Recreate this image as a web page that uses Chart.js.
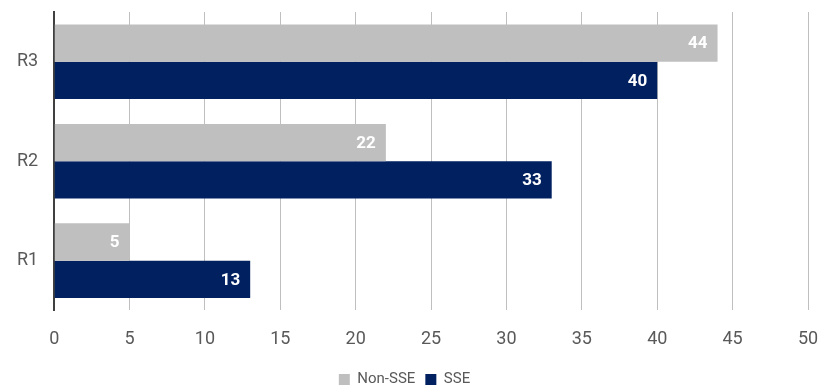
<!DOCTYPE html>
<html>
<head>
<meta charset="utf-8">
<script src="https://cdn.jsdelivr.net/npm/chart.js@4.4.1/dist/chart.umd.min.js"></script>
<style>
  html, body { margin: 0; padding: 0; background: #fff; }
  #chart { display: block; }
</style>
</head>
<body>
<canvas id="chart" width="819" height="388"></canvas>
<script>
// Rounds shown top to bottom
var rounds = ['R3', 'R2', 'R1'];
var nonSseValues = [44, 22, 5];
var sseValues = [40, 33, 13];
var xTicks = [0, 5, 10, 15, 20, 25, 30, 35, 40, 45, 50];

var greyColor = '#bfbfbf';
var navyColor = '#002060';
var textColor = '#595959';

// Write each value in white at the inner end of its bar
var barValueLabels = {
    id: 'barValueLabels',
    afterDatasetsDraw: function (chart) {
        var ctx = chart.ctx;
        ctx.save();
        ctx.fillStyle = '#ffffff';
        ctx.font = 'bold 17px Roboto';
        ctx.textAlign = 'right';
        ctx.textBaseline = 'middle';
        chart.data.datasets.forEach(function (ds, i) {
            var meta = chart.getDatasetMeta(i);
            meta.data.forEach(function (bar, j) {
                ctx.fillText(String(ds.data[j]), bar.x - 10, bar.y + 1);
            });
        });
        ctx.restore();
    }
};

var ctx = document.getElementById('chart').getContext('2d');
var chart = new Chart(ctx, {
    type: 'bar',
    data: {
        labels: rounds,
        datasets: [{
            label: 'Non-SSE',
            data: nonSseValues,
            backgroundColor: greyColor,
            categoryPercentage: 0.75,
            barPercentage: 1.0
        }, {
            label: 'SSE',
            data: sseValues,
            backgroundColor: navyColor,
            categoryPercentage: 0.75,
            barPercentage: 1.0
        }]
    },
    options: {
        indexAxis: 'y',
        responsive: false,
        animation: false,
        layout: { padding: { top: 12, right: 11, left: 1, bottom: -9 } },
        scales: {
            x: {
                min: 0,
                max: 50,
                afterBuildTicks: function (axis) {
                    axis.ticks = xTicks.map(function (v) { return { value: v }; });
                },
                afterFit: function (axis) {
                    axis.height -= 6;
                    axis.paddingLeft = 0;
                    axis.paddingRight = 0;
                },
                grid: { color: '#bfbfbf', lineWidth: 1, drawTicks: false },
                border: { display: false },
                ticks: { color: textColor, font: { family: 'Roboto', size: 18 }, padding: 18 }
            },
            y: {
                afterFit: function (axis) {
                    axis.paddingTop = 0;
                    axis.paddingBottom = 0;
                },
                grid: { display: false, drawTicks: false },
                border: { display: true, color: '#404040', width: 2 },
                ticks: { color: textColor, font: { family: 'Roboto', size: 18 }, padding: 16 }
            }
        },
        plugins: {
            legend: {
                position: 'bottom',
                labels: {
                    color: textColor,
                    font: { family: 'Roboto', size: 15 },
                    boxWidth: 11,
                    boxHeight: 11,
                    padding: 10
                }
            },
            tooltip: { enabled: false }
        }
    },
    plugins: [barValueLabels]
});
</script>
</body>
</html>
